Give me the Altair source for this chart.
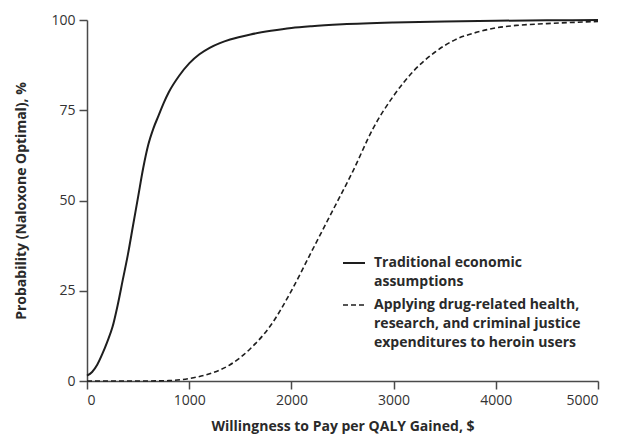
import altair as alt
import pandas as pd

# Willingness to pay ($) and probability (%)
trad_x = [0, 50, 100, 150, 200, 250, 300, 350, 400, 450, 500, 550, 600, 650, 700, 750,
          800, 900, 1000, 1100, 1200, 1300, 1400, 1600, 1800, 2000, 2200, 2500,
          3000, 3500, 4000, 4500, 5000]
trad_y = [1.5, 2.5, 4.5, 7.5, 11, 15, 21, 28, 35, 43, 51, 59, 65.5, 70, 73.5, 77,
          80, 84.5, 88, 90.5, 92.3, 93.6, 94.6, 96, 97, 97.8, 98.3, 98.8,
          99.3, 99.6, 99.8, 99.9, 100]

drug_x = [0, 250, 500, 800, 1000, 1200, 1400, 1600, 1800, 2000, 2200, 2400, 2600,
          2800, 3000, 3200, 3400, 3600, 3800, 4000, 4200, 4500, 5000]
drug_y = [0, 0, 0, 0.1, 0.7, 2, 4.5, 9, 15.5, 25, 36, 47, 58,
          70, 79, 86, 91, 94.5, 96.5, 97.8, 98.5, 99, 99.6]

series_names = ["Traditional economic assumptions",
                "Applying drug-related health, research, and criminal justice expenditures to heroin users"]
legend_lines = [["Traditional economic", "assumptions"],
                ["Applying drug-related health,", "research, and criminal justice", "expenditures to heroin users"]]

x_ticks = [0, 1000, 2000, 3000, 4000, 5000]
y_ticks = [0, 25, 50, 75, 100]

df = pd.concat([
    pd.DataFrame({"wtp": trad_x, "prob": trad_y, "series": series_names[0]}),
    pd.DataFrame({"wtp": drug_x, "prob": drug_y, "series": series_names[1]}),
])

FONT = "Open Sans"
INK = "#1e1e1e"
AXIS = "#4a4a4a"

W, H = 511, 361

base = alt.Chart(df).encode(
    x=alt.X("wtp:Q", scale=alt.Scale(domain=[0, 5000], nice=False),
            axis=alt.Axis(values=x_ticks, format="d", title="Willingness to Pay per QALY Gained, $",
                          titlePadding=12)),
    y=alt.Y("prob:Q", scale=alt.Scale(domain=[0, 100], nice=False),
            axis=alt.Axis(values=y_ticks, title="Probability (Naloxone Optimal), %",
                          titlePadding=22)),
)

solid = base.transform_filter(alt.datum.series == series_names[0]).mark_line(
    color=INK, strokeWidth=2, interpolate="monotone")
dashed = base.transform_filter(alt.datum.series == series_names[1]).mark_line(
    color=INK, strokeWidth=1.6, strokeDash=[5, 3], interpolate="monotone")

# legend (annotation)
lx0, lx1, tx = 256, 278, 287
ly = [243, 285]
leg_solid = alt.Chart(pd.DataFrame({"a": [0]})).mark_rule(color=INK, strokeWidth=2).encode(
    x=alt.value(lx0), x2=alt.value(lx1), y=alt.value(ly[0]))
leg_dash = alt.Chart(pd.DataFrame({"a": [0]})).mark_rule(color=INK, strokeWidth=1.6, strokeDash=[5, 3]).encode(
    x=alt.value(lx0), x2=alt.value(lx1 + 1), y=alt.value(ly[1]))
leg_text = []
for lines, yy in zip(legend_lines, ly):
    leg_text.append(
        alt.Chart(pd.DataFrame({"t": [lines]})).mark_text(
            align="left", baseline="middle", font=FONT, fontSize=14, fontWeight="bold",
            color="#2a2a2a", lineHeight=19).encode(
            x=alt.value(tx), y=alt.value(yy), text="t"))

chart = alt.layer(solid, dashed, leg_solid, leg_dash, *leg_text).properties(
    width=W, height=H,
    autosize=alt.AutoSizeParams(type="none"),
    padding={"left": 79, "top": 12, "right": 12, "bottom": 62},
).configure_view(stroke=None).configure_axis(
    grid=False, domainColor=AXIS, domainWidth=1.5, tickColor=AXIS, tickWidth=1.5,
    tickSize=8, labelFont=FONT, labelFontSize=14, labelColor="#333333", labelPadding=4,
    titleFont=FONT, titleFontSize=14, titleFontWeight="bold", titleColor="#2a2a2a",
)

chart.save("out.html", embed_options={"renderer": "svg", "actions": False})
